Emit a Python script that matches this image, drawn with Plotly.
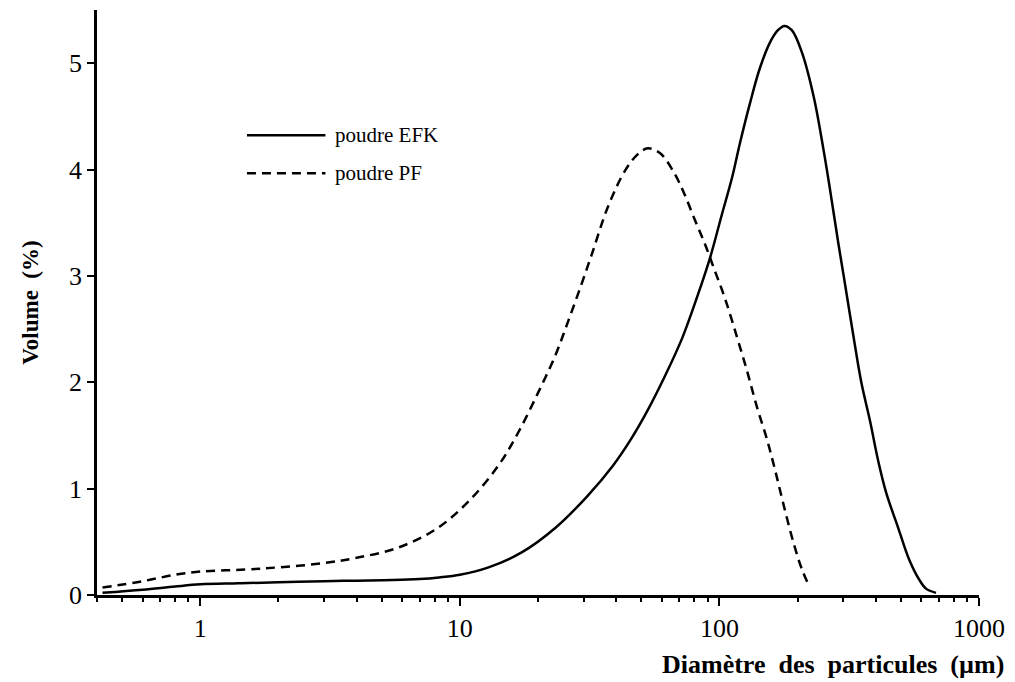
import plotly.graph_objects as go

# --- data ---
efk_x = [0.42, 0.6, 0.8, 1.0, 1.4, 2, 3, 4, 5.5, 7, 8.3, 10, 12.9, 17.3, 23.3, 31, 39, 45.5,
         53, 62, 72, 82, 92, 102, 112, 120, 131, 143, 157, 168, 178, 190, 208, 231, 252, 266,
         287, 302, 330, 352, 380, 409, 438, 490, 539, 590, 625, 683]
efk_y = [0.02, 0.05, 0.08, 0.10, 0.11, 0.12, 0.13, 0.135, 0.14, 0.15, 0.165, 0.19, 0.26, 0.40,
         0.63, 0.93, 1.22, 1.46, 1.74, 2.07, 2.42, 2.80, 3.17, 3.57, 3.93, 4.25, 4.62, 4.95,
         5.20, 5.31, 5.35, 5.31, 5.10, 4.68, 4.18, 3.83, 3.31, 2.98, 2.40, 2.00, 1.64, 1.26,
         0.97, 0.62, 0.33, 0.14, 0.06, 0.02]

pf_x = [0.42, 0.6, 0.8, 1.0, 1.5, 2, 3, 4, 5.7, 8.1, 10.8, 14.1, 16.8, 20, 23.3,
        26.1, 29.3, 32.1, 37.2, 43.3, 48.3, 53, 59.3, 67.2, 73.3, 80, 87.6, 95.6, 105, 117,
        128, 139, 153, 164, 177, 194, 208, 222]
pf_y = [0.07, 0.13, 0.19, 0.22, 0.24, 0.26, 0.30, 0.35, 0.44, 0.62, 0.88, 1.22, 1.53, 1.90,
        2.25, 2.57, 2.91, 3.19, 3.65, 3.99, 4.14, 4.20, 4.15, 3.96, 3.77,
        3.54, 3.31, 3.06, 2.79, 2.42, 2.10, 1.78, 1.45, 1.17, 0.84, 0.47, 0.24, 0.08]

series_names = ["poudre EFK", "poudre PF"]
x_ticks = [1, 10, 100, 1000]
minor_mult = [2, 3, 4, 5, 6, 7, 8, 9]
y_ticks = [0, 1, 2, 3, 4, 5]

FONT = "Liberation Serif"
minor_vals = [m * d for d in [0.1, 1, 10, 100] for m in minor_mult]

fig = go.Figure()
fig.add_trace(go.Scatter(x=efk_x, y=efk_y, mode="lines", name=series_names[0],
                         line=dict(color="black", width=2.5, shape="spline", smoothing=1.0),
                         showlegend=False))
fig.add_trace(go.Scatter(x=pf_x, y=pf_y, mode="lines", name=series_names[1],
                         line=dict(color="black", width=2.5, dash="9px,6px",
                                   shape="spline", smoothing=1.0),
                         showlegend=False))

# custom legend (long line samples as in the reference)
leg = [(0.786, "solid"), (0.721, "9px,6px")]
for (yy, dash), name in zip(leg, series_names):
    fig.add_shape(type="line", xref="paper", yref="paper", x0=0.17, x1=0.259, y0=yy, y1=yy,
                  line=dict(color="black", width=2.5, dash=dash))
    fig.add_annotation(xref="paper", yref="paper", x=0.268, y=yy, text=name, showarrow=False,
                       xanchor="left", yanchor="middle",
                       font=dict(family=FONT, size=21, color="black"))

fig.add_annotation(xref="paper", yref="paper", x=1.031, y=-0.118,
                   text="<b>Diamètre&nbsp; des&nbsp; particules&nbsp; (µm)</b>", showarrow=False,
                   xanchor="right", yanchor="middle",
                   font=dict(family=FONT, size=26, color="black"))

fig.update_xaxes(type="log", range=[-0.398, 3.0], tickvals=x_ticks,
                 ticktext=[str(v) for v in x_ticks],
                 showgrid=False, zeroline=False, showline=True, linecolor="black",
                 linewidth=2.5, ticks="outside", ticklen=8, tickwidth=2, tickcolor="black",
                 minor=dict(ticks="outside", ticklen=4, tickwidth=1.5, tickcolor="black",
                            tickmode="array", tickvals=minor_vals, showgrid=False),
                 tickfont=dict(family=FONT, size=26, color="black"))
fig.update_yaxes(range=[0, 5.5], tickvals=y_ticks, showgrid=False, zeroline=False,
                 showline=True, linecolor="black", linewidth=2.5, ticks="outside",
                 ticklen=7, tickwidth=2, tickcolor="black",
                 tickfont=dict(family=FONT, size=26, color="black"),
                 title=dict(text="<b>Volume&nbsp; (%)</b>", standoff=24,
                            font=dict(family=FONT, size=23, color="black")))

fig.update_layout(width=1015, height=682, margin=dict(l=97, r=30, t=10, b=87),
                  plot_bgcolor="white", paper_bgcolor="white")

fig.write_html("out.html")
